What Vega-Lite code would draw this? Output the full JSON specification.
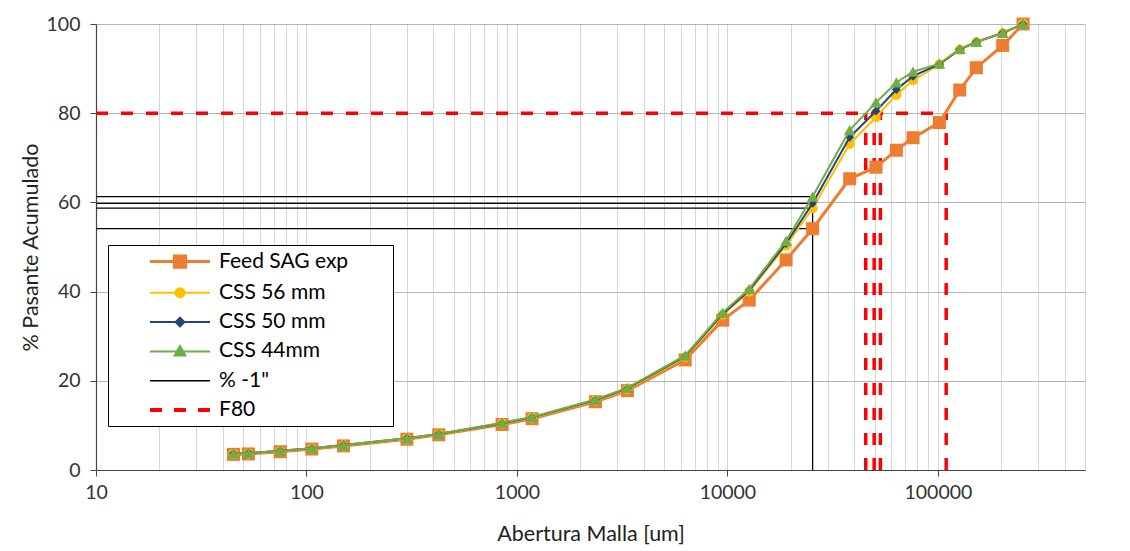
{
  "$schema": "https://vega.github.io/schema/vega-lite/v6.json",
  "width": 989,
  "height": 446,
  "autosize": "none",
  "padding": {"left": 96, "top": 24, "right": 45, "bottom": 81},
  "background": "#ffffff",
  "config": {
    "font": "Lato",
    "view": {"stroke": null},
    "axis": {"labelFont": "Lato", "titleFont": "Lato", "labelFontSize": 19.5, "titleFontSize": 21.5, "titleFontWeight": "normal", "labelColor": "#333333", "titleColor": "#222222", "domainColor": "#444444", "tickColor": "#444444", "domainWidth": 1.2},
    "legend": {"symbolOpacity": 1}
  },
  "datasets": {
    "curves": [
      {"series": "Feed SAG exp", "size": 45, "pct": 3.5}, {"series": "Feed SAG exp", "size": 53, "pct": 3.6}, {"series": "Feed SAG exp", "size": 75, "pct": 4.1}, {"series": "Feed SAG exp", "size": 106, "pct": 4.7}, {"series": "Feed SAG exp", "size": 150, "pct": 5.4}, {"series": "Feed SAG exp", "size": 300, "pct": 6.9}, {"series": "Feed SAG exp", "size": 425, "pct": 7.9}, {"series": "Feed SAG exp", "size": 850, "pct": 10.2}, {"series": "Feed SAG exp", "size": 1180, "pct": 11.5}, {"series": "Feed SAG exp", "size": 2360, "pct": 15.3}, {"series": "Feed SAG exp", "size": 3350, "pct": 17.8}, {"series": "Feed SAG exp", "size": 6300, "pct": 24.7}, {"series": "Feed SAG exp", "size": 9500, "pct": 33.6}, {"series": "Feed SAG exp", "size": 12700, "pct": 38.1}, {"series": "Feed SAG exp", "size": 19000, "pct": 47.1}, {"series": "Feed SAG exp", "size": 25400, "pct": 54.1}, {"series": "Feed SAG exp", "size": 38100, "pct": 65.3}, {"series": "Feed SAG exp", "size": 50800, "pct": 67.9}, {"series": "Feed SAG exp", "size": 63500, "pct": 71.7}, {"series": "Feed SAG exp", "size": 76200, "pct": 74.5}, {"series": "Feed SAG exp", "size": 101600, "pct": 77.9}, {"series": "Feed SAG exp", "size": 127000, "pct": 85.2}, {"series": "Feed SAG exp", "size": 152400, "pct": 90.2}, {"series": "Feed SAG exp", "size": 203200, "pct": 95.2}, {"series": "Feed SAG exp", "size": 254000, "pct": 100},
      {"series": "CSS 56 mm", "size": 45, "pct": 3.6}, {"series": "CSS 56 mm", "size": 53, "pct": 3.7}, {"series": "CSS 56 mm", "size": 75, "pct": 4.2}, {"series": "CSS 56 mm", "size": 106, "pct": 4.8}, {"series": "CSS 56 mm", "size": 150, "pct": 5.5}, {"series": "CSS 56 mm", "size": 300, "pct": 7.0}, {"series": "CSS 56 mm", "size": 425, "pct": 8.0}, {"series": "CSS 56 mm", "size": 850, "pct": 10.4}, {"series": "CSS 56 mm", "size": 1180, "pct": 11.7}, {"series": "CSS 56 mm", "size": 2360, "pct": 15.6}, {"series": "CSS 56 mm", "size": 3350, "pct": 18.1}, {"series": "CSS 56 mm", "size": 6300, "pct": 25.3}, {"series": "CSS 56 mm", "size": 9500, "pct": 34.8}, {"series": "CSS 56 mm", "size": 12700, "pct": 40.0}, {"series": "CSS 56 mm", "size": 19000, "pct": 50.3}, {"series": "CSS 56 mm", "size": 25400, "pct": 58.7}, {"series": "CSS 56 mm", "size": 38100, "pct": 73.1}, {"series": "CSS 56 mm", "size": 50800, "pct": 79.1}, {"series": "CSS 56 mm", "size": 63500, "pct": 84.1}, {"series": "CSS 56 mm", "size": 76200, "pct": 87.4}, {"series": "CSS 56 mm", "size": 101600, "pct": 90.9}, {"series": "CSS 56 mm", "size": 127000, "pct": 94.2}, {"series": "CSS 56 mm", "size": 152400, "pct": 95.9}, {"series": "CSS 56 mm", "size": 203200, "pct": 97.9}, {"series": "CSS 56 mm", "size": 254000, "pct": 100},
      {"series": "CSS 50 mm", "size": 45, "pct": 3.7}, {"series": "CSS 50 mm", "size": 53, "pct": 3.8}, {"series": "CSS 50 mm", "size": 75, "pct": 4.3}, {"series": "CSS 50 mm", "size": 106, "pct": 4.9}, {"series": "CSS 50 mm", "size": 150, "pct": 5.6}, {"series": "CSS 50 mm", "size": 300, "pct": 7.1}, {"series": "CSS 50 mm", "size": 425, "pct": 8.1}, {"series": "CSS 50 mm", "size": 850, "pct": 10.5}, {"series": "CSS 50 mm", "size": 1180, "pct": 11.8}, {"series": "CSS 50 mm", "size": 2360, "pct": 15.7}, {"series": "CSS 50 mm", "size": 3350, "pct": 18.3}, {"series": "CSS 50 mm", "size": 6300, "pct": 25.5}, {"series": "CSS 50 mm", "size": 9500, "pct": 35.0}, {"series": "CSS 50 mm", "size": 12700, "pct": 40.3}, {"series": "CSS 50 mm", "size": 19000, "pct": 50.8}, {"series": "CSS 50 mm", "size": 25400, "pct": 59.8}, {"series": "CSS 50 mm", "size": 38100, "pct": 74.6}, {"series": "CSS 50 mm", "size": 50800, "pct": 80.5}, {"series": "CSS 50 mm", "size": 63500, "pct": 85.3}, {"series": "CSS 50 mm", "size": 76200, "pct": 88.3}, {"series": "CSS 50 mm", "size": 101600, "pct": 91.0}, {"series": "CSS 50 mm", "size": 127000, "pct": 94.3}, {"series": "CSS 50 mm", "size": 152400, "pct": 96.0}, {"series": "CSS 50 mm", "size": 203200, "pct": 98.0}, {"series": "CSS 50 mm", "size": 254000, "pct": 100},
      {"series": "CSS 44mm", "size": 45, "pct": 3.7}, {"series": "CSS 44mm", "size": 53, "pct": 3.8}, {"series": "CSS 44mm", "size": 75, "pct": 4.3}, {"series": "CSS 44mm", "size": 106, "pct": 4.9}, {"series": "CSS 44mm", "size": 150, "pct": 5.6}, {"series": "CSS 44mm", "size": 300, "pct": 7.1}, {"series": "CSS 44mm", "size": 425, "pct": 8.1}, {"series": "CSS 44mm", "size": 850, "pct": 10.6}, {"series": "CSS 44mm", "size": 1180, "pct": 11.9}, {"series": "CSS 44mm", "size": 2360, "pct": 15.8}, {"series": "CSS 44mm", "size": 3350, "pct": 18.4}, {"series": "CSS 44mm", "size": 6300, "pct": 25.7}, {"series": "CSS 44mm", "size": 9500, "pct": 35.3}, {"series": "CSS 44mm", "size": 12700, "pct": 40.6}, {"series": "CSS 44mm", "size": 19000, "pct": 51.4}, {"series": "CSS 44mm", "size": 25400, "pct": 61.3}, {"series": "CSS 44mm", "size": 38100, "pct": 76.2}, {"series": "CSS 44mm", "size": 50800, "pct": 82.4}, {"series": "CSS 44mm", "size": 63500, "pct": 86.9}, {"series": "CSS 44mm", "size": 76200, "pct": 89.3}, {"series": "CSS 44mm", "size": 101600, "pct": 91.1}, {"series": "CSS 44mm", "size": 127000, "pct": 94.4}, {"series": "CSS 44mm", "size": 152400, "pct": 96.0}, {"series": "CSS 44mm", "size": 203200, "pct": 98.0}, {"series": "CSS 44mm", "size": 254000, "pct": 100}
    ],
    "refs": [
      {"series": "% -1\"", "size": 10, "size2": 25400, "pct": 54.1, "pct2": 54.1},
      {"series": "% -1\"", "size": 10, "size2": 25400, "pct": 58.7, "pct2": 58.7},
      {"series": "% -1\"", "size": 10, "size2": 25400, "pct": 59.8, "pct2": 59.8},
      {"series": "% -1\"", "size": 10, "size2": 25400, "pct": 61.3, "pct2": 61.3},
      {"series": "% -1\"", "size": 25400, "size2": 25400, "pct": 0, "pct2": 61.3},
      {"series": "F80", "size": 10, "size2": 109500, "pct": 80, "pct2": 80},
      {"series": "F80", "size": 45400, "size2": 45400, "pct": 0, "pct2": 80},
      {"series": "F80", "size": 49800, "size2": 49800, "pct": 0, "pct2": 80},
      {"series": "F80", "size": 53300, "size2": 53300, "pct": 0, "pct2": 80},
      {"series": "F80", "size": 109500, "size2": 109500, "pct": 0, "pct2": 80}
    ]
  },
  "layer": [
    {
      "data": {"name": "refs"},
      "transform": [{"filter": "datum.series == 'F80'"}],
      "mark": {"type": "rule", "strokeWidth": 3.5, "strokeDash": [12, 13]},
      "encoding": {
        "x": {"field": "size", "type": "quantitative", "scale": {"type": "log", "domain": [10, 500000], "nice": false},
          "title": "Abertura Malla [um]",
          "axis": {
            "values": [10,20,30,40,50,60,70,80,90,100,200,300,400,500,600,700,800,900,1000,2000,3000,4000,5000,6000,7000,8000,9000,10000,20000,30000,40000,50000,60000,70000,80000,90000,100000,200000,300000,400000,500000],
            "labelExpr": "indexof([10,100,1000,10000,100000], datum.value) >= 0 ? datum.label : ''",
            "format": "d",
            "grid": true, "gridColor": "#d6d6d6", "gridWidth": 1,
            "tickSize": 6,
            "tickOpacity": {"condition": {"test": "indexof([10,100,1000,10000,100000], datum.value) >= 0", "value": 1}, "value": 0},
            "labelPadding": 7, "titlePadding": 22, "labelFlush": false, "labelOverlap": false
          }
        },
        "x2": {"field": "size2"},
        "y": {"field": "pct", "type": "quantitative", "scale": {"domain": [0, 100], "nice": false},
          "title": "% Pasante Acumulado",
          "axis": {"values": [0,20,40,60,80,100], "grid": true, "gridColor": "#b5b5b5", "tickSize": 6, "labelPadding": 10, "titlePadding": 4}
        },
        "y2": {"field": "pct2"},
        "color": {"field": "series", "type": "nominal",
          "scale": {"domain": ["Feed SAG exp", "CSS 56 mm", "CSS 50 mm", "CSS 44mm", "% -1\"", "F80"], "range": ["#ED7D31", "#FFC000", "#264478", "#70AD47", "#000000", "#FF0000"]},
          "legend": {
            "orient": "none", "legendX": 12, "legendY": 221, "title": " ", "titleOrient": "right", "titlePadding": 39, "titleFontSize": 12,
            "padding": 6, "rowPadding": 7.3, "labelFontSize": 21, "labelFont": "Lato", "labelColor": "#000000",
            "symbolSize": 225, "symbolOffset": 55.5, "labelOffset": 28.5, "symbolStrokeWidth": 2.5, "symbolOpacity": 1,
            "strokeColor": "#000000", "fillColor": "#ffffff", "cornerRadius": 0,
            "encode": {
              "symbols": {"update": {"strokeWidth": {"signal": "datum.index >= 0 ? [3, 2, 2, 2, 1.5, 4][datum.index] : 2.5"}}}
            }
          }
        }
      }
    },
    {
      "data": {"name": "refs"},
      "transform": [{"filter": "datum.series != 'F80'"}],
      "mark": {"type": "rule", "strokeWidth": 1.3},
      "encoding": {
        "x": {"field": "size", "type": "quantitative", "title": "Abertura Malla [um]"},
        "x2": {"field": "size2"},
        "y": {"field": "pct", "type": "quantitative", "title": "% Pasante Acumulado"},
        "y2": {"field": "pct2"},
        "color": {"field": "series", "type": "nominal"}
      }
    },
    {
      "data": {"name": "curves"},
      "transform": [{"filter": "datum.series == 'Feed SAG exp'"}],
      "mark": {"type": "line", "strokeWidth": 3, "point": {"shape": "square", "size": 170, "filled": true}},
      "encoding": {
        "x": {"field": "size", "type": "quantitative", "title": "Abertura Malla [um]"},
        "y": {"field": "pct", "type": "quantitative", "title": "% Pasante Acumulado"},
        "color": {"field": "series", "type": "nominal"}
      }
    },
    {
      "data": {"name": "curves"},
      "transform": [{"filter": "datum.series == 'CSS 56 mm'"}],
      "mark": {"type": "line", "strokeWidth": 2, "point": {"shape": "circle", "size": 100, "filled": true}},
      "encoding": {
        "x": {"field": "size", "type": "quantitative", "title": "Abertura Malla [um]"},
        "y": {"field": "pct", "type": "quantitative", "title": "% Pasante Acumulado"},
        "color": {"field": "series", "type": "nominal"}
      }
    },
    {
      "data": {"name": "curves"},
      "transform": [{"filter": "datum.series == 'CSS 50 mm'"}],
      "mark": {"type": "line", "strokeWidth": 2, "point": {"shape": "diamond", "size": 80, "filled": true}},
      "encoding": {
        "x": {"field": "size", "type": "quantitative", "title": "Abertura Malla [um]"},
        "y": {"field": "pct", "type": "quantitative", "title": "% Pasante Acumulado"},
        "color": {"field": "series", "type": "nominal"}
      }
    },
    {
      "data": {"name": "curves"},
      "transform": [{"filter": "datum.series == 'CSS 44mm'"}],
      "mark": {"type": "line", "strokeWidth": 2, "point": {"shape": "triangle-up", "size": 140, "filled": true}},
      "encoding": {
        "x": {"field": "size", "type": "quantitative", "title": "Abertura Malla [um]"},
        "y": {"field": "pct", "type": "quantitative", "title": "% Pasante Acumulado"},
        "color": {"field": "series", "type": "nominal"}
      }
    },
    {
      "data": {"name": "refs"},
      "mark": {"type": "point", "filled": true, "opacity": 0},
      "encoding": {
        "x": {"field": "size", "type": "quantitative", "title": "Abertura Malla [um]"},
        "y": {"field": "pct", "type": "quantitative", "title": "% Pasante Acumulado"},
        "color": {"field": "series", "type": "nominal"},
        "shape": {"field": "series", "type": "nominal",
          "scale": {"domain": ["Feed SAG exp", "CSS 56 mm", "CSS 50 mm", "CSS 44mm", "% -1\"", "F80"],
            "range": ["M-4,0H4M-0.75,-0.75H0.75V0.75H-0.75Z", "M-4,0H4M-0.6,0A0.6,0.6,0,1,1,0.6,0A0.6,0.6,0,1,1,-0.6,0Z", "M-4,0H4M0,-0.58L0.58,0L0,0.58L-0.58,0Z", "M-4,0H4M0,-0.72L0.72,0.55L-0.72,0.55Z", "M-4,0H4", "M-4,0H4"]},
          "legend": {"title": " ", "orient": "none", "legendX": 12, "legendY": 221}
        },
        "strokeDash": {"field": "series", "type": "nominal",
          "scale": {"domain": ["Feed SAG exp", "CSS 56 mm", "CSS 50 mm", "CSS 44mm", "% -1\"", "F80"],
            "range": [[1, 0], [1, 0], [1, 0], [1, 0], [1, 0], [12, 12]]},
          "legend": {"title": " ", "orient": "none", "legendX": 12, "legendY": 221}
        }
      }
    }
  ]
}
